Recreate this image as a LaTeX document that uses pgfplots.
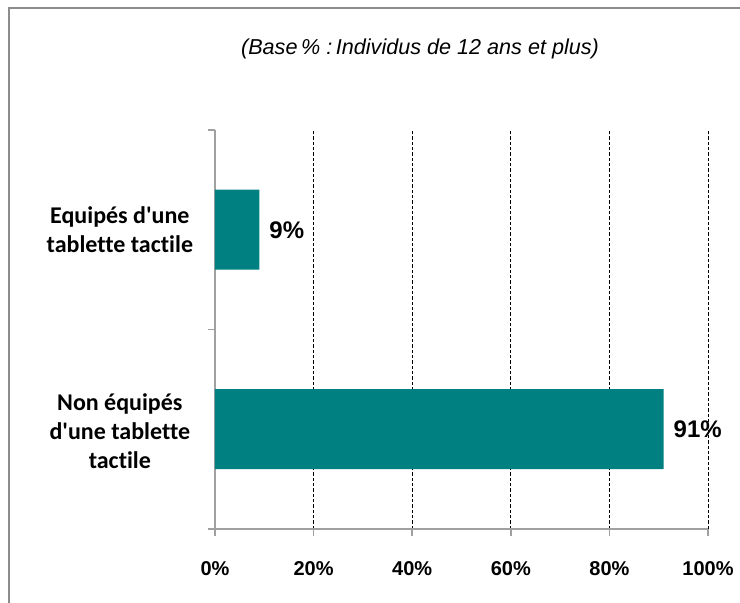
\documentclass[border=0pt]{standalone}
\usepackage{fontspec}
\setmainfont{Liberation Sans}
\newfontfamily\carlito[Ligatures=NoCommon]{Carlito}
\usepackage{pgfplots}
\pgfplotsset{compat=1.18}
\definecolor{barteal}{HTML}{008080}
\definecolor{axgray}{HTML}{A0A0A0}
\definecolor{framegray}{HTML}{8C8C8C}
\begin{document}
\begin{tikzpicture}[x=0.75pt,y=0.75pt]
\path[use as bounding box] (0,0) rectangle (740,603);
\draw[framegray, line width=1.5pt] (9,-5) -- (9,595) -- (745,595);
\node[font=\itshape\fontsize{16.2}{19}\selectfont] at (420,554) {(Base\,\% :\,Individus de 12 ans et plus)};
\begin{axis}[
  at={(161.25pt,55.5pt)}, anchor=south west,
  width=369.75pt, height=299.25pt, scale only axis,
  xmin=0, xmax=100, ymin=0, ymax=2,
  axis x line*=bottom, axis y line*=left,
  xbar, bar width=60pt,
  /pgf/number format/assume math mode=true,
  xtick={0,20,...,100},
  xticklabel={\pgfmathprintnumber{\tick}\%},
  xticklabel style={font=\bfseries\fontsize{15}{17}\selectfont, anchor=center, yshift=-24.5pt},
  ytick={0,1,2}, yticklabels={},
  tick align=outside, major tick length=5.25pt,
  tick style={axgray, line width=1.1pt},
  axis line style={axgray, line width=1.5pt},
  xmajorgrids, grid style={black, line width=0.6pt, dash pattern=on 2.5pt off 1.5pt},
  clip=false,
  nodes near coords={\pgfmathprintnumber{\pgfplotspointmeta}\%},
  point meta=x,
  nodes near coords style={font=\bfseries\fontsize{18}{20}\selectfont, anchor=west, xshift=4pt},
]
\addplot[fill=barteal, draw=none] coordinates {(91,0.5) (9,1.5)};
\node[align=center, font=\carlito\bfseries\fontsize{18}{21.75}\selectfont] at (axis cs:-19.3,1.5) {Equipés d'une\\tablette tactile};
\node[align=center, font=\carlito\bfseries\fontsize{18}{21.75}\selectfont] at (axis cs:-19.3,0.49) {Non équipés\\d'une tablette\\tactile};
\end{axis}
\end{tikzpicture}
\end{document}
